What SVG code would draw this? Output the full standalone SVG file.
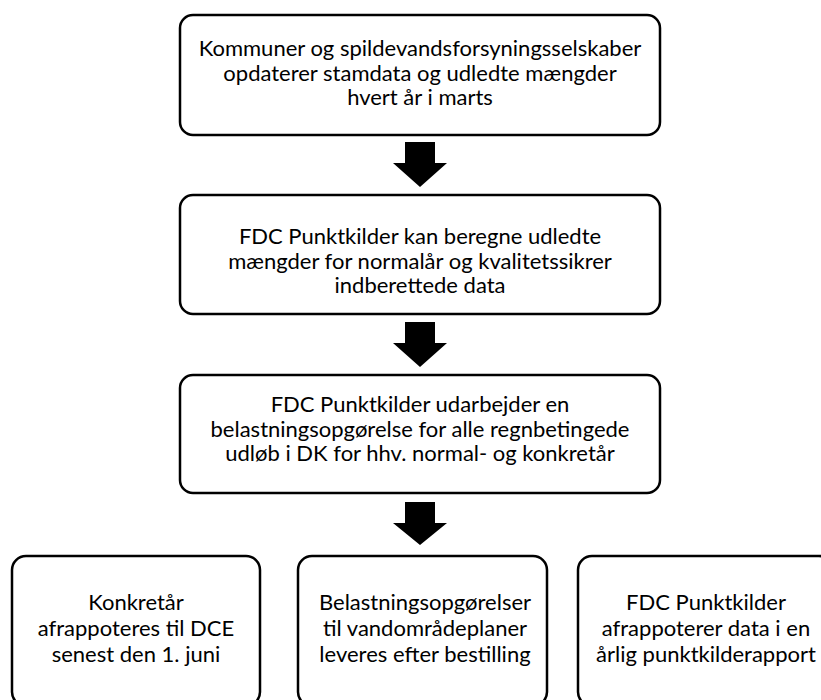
<svg xmlns="http://www.w3.org/2000/svg" width="821" height="700" viewBox="0 0 821 700">
<style>
.box{fill:#fff;stroke:#000;stroke-width:2.5}
.t{font-family:Lato,"Liberation Sans",sans-serif;font-size:22px;fill:#000;text-anchor:middle}
.arr{fill:#000}
</style>
<rect width="821" height="700" fill="#fff"/>
<g id="n1"><rect class="box" x="180" y="15" width="480" height="120" rx="13"/>
<text class="t"><tspan x="420" y="56">Kommuner og spildevandsforsyningsselskaber</tspan><tspan x="420" y="80.5">opdaterer stamdata og udledte mængder</tspan><tspan x="420" y="105">hvert år i marts</tspan></text></g>
<g id="n2"><rect class="box" x="180" y="195" width="480" height="119" rx="13"/>
<text class="t"><tspan x="420" y="244">FDC Punktkilder kan beregne udledte</tspan><tspan x="420" y="268.5">mængder for normalår og kvalitetssikrer</tspan><tspan x="420" y="293">indberettede data</tspan></text></g>
<g id="n3"><rect class="box" x="180" y="375" width="480" height="118" rx="13"/>
<text class="t"><tspan x="420" y="412">FDC Punktkilder udarbejder en</tspan><tspan x="420" y="436.5">belastningsopgørelse for alle regnbetingede</tspan><tspan x="420" y="461">udløb i DK for hhv. normal- og konkretår</tspan></text></g>
<g id="n4"><rect class="box" x="12" y="556" width="248" height="150" rx="14"/>
<text class="t"><tspan x="136" y="610">Konkretår</tspan><tspan x="136" y="636">afrappoteres til DCE</tspan><tspan x="136" y="662">senest den 1. juni</tspan></text></g>
<g id="n5"><rect class="box" x="298" y="556" width="249" height="150" rx="14"/>
<text class="t"><tspan x="425" y="610">Belastningsopgørelser</tspan><tspan x="425" y="636">til vandområdeplaner</tspan><tspan x="425" y="662">leveres efter bestilling</tspan></text></g>
<g id="n6"><rect class="box" x="578" y="556" width="255" height="150" rx="14"/>
<text class="t"><tspan x="706" y="610">FDC Punktkilder</tspan><tspan x="706" y="636">afrappoterer data i en</tspan><tspan x="706" y="662">årlig punktkilderapport</tspan></text></g>
<g id="connectors">
<polygon class="arr" points="405,142 435,142 435,163 447,163 420,187 393,163 405,163"/>
<polygon class="arr" points="405,322 435,322 435,343 447,343 420,367 393,343 405,343"/>
<polygon class="arr" points="405,502 435,502 435,523 447,523 420,545 393,523 405,523"/>
</g>
</svg>
